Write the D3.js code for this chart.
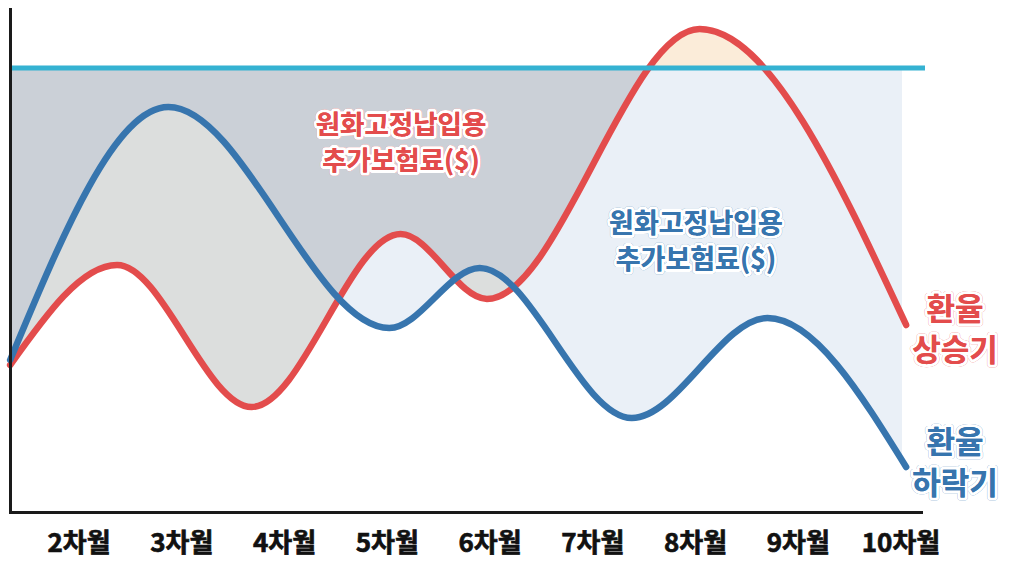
<!DOCTYPE html>
<html>
<head>
<meta charset="utf-8">
<script src="https://cdn.jsdelivr.net/npm/d3@7"></script>
<style>
  body { margin: 0; background: #fff; }
  svg { display: block; font-family: "Noto Sans CJK KR", "Noto Sans", sans-serif; }
</style>
</head>
<body>
<script>
// months on x, exchange-rate index on y
var months = [2, 3, 4, 5, 6, 7, 8, 9, 10];
var monthLabels = ["2차월", "3차월", "4차월", "5차월", "6차월", "7차월", "8차월", "9차월", "10차월"];

var riseMonths = [1.33, 2.37, 3.68, 5.13, 5.97, 8.04, 10.05];
var riseValues = [29.6, 49.6, 21.2, 55.8, 42.8, 96.8, 37.6];

var fallMonths = [1.33, 2.87, 5.02, 5.90, 7.38, 8.70, 10.05];
var fallValues = [30.6, 81.2, 37.0, 49.0, 19.0, 39.0, 9.2];

var fixedRate = 89;

var width = 1009, height = 563;
var red = "#e34c4c", blue = "#3775ae", cyan = "#35b2d2";

var x = d3.scaleLinear().domain([2, 10]).range([79, 901]);
var y = d3.scaleLinear().domain([0, 100]).range([513, 13]);

var rise = riseMonths.map(function(m, i) { return { m: m, v: riseValues[i] }; });
var fall = fallMonths.map(function(m, i) { return { m: m, v: fallValues[i] }; });

var svg = d3.select("body")
	.append("svg")
		.attr("width", width)
		.attr("height", height);

var defs = svg.append("defs");

var line = d3.line()
		.curve(d3.curveMonotoneX)
		.x(function(d) { return x(d.m); })
		.y(function(d) { return y(d.v); });

function areaTo(base) {
	return d3.area()
		.curve(d3.curveMonotoneX)
		.x(function(d) { return x(d.m); })
		.y0(base)
		.y1(function(d) { return y(d.v); });
}

var yTop = 0, yBottom = 513, yFix = y(fixedRate);

// clips
defs.append("clipPath").attr("id", "belowFall")
	.append("path").attr("d", areaTo(yBottom)(fall));
defs.append("clipPath").attr("id", "leftOfPeak")
	.append("rect")
		.attr("x", 0).attr("y", yFix)
		.attr("width", x(8.04)).attr("height", yBottom - yFix);
defs.append("clipPath").attr("id", "aboveFix")
	.append("rect")
		.attr("x", 0).attr("y", 0)
		.attr("width", width).attr("height", yFix);
defs.append("clipPath").attr("id", "plotRight")
	.append("rect")
		.attr("x", 0).attr("y", 0)
		.attr("width", 902).attr("height", height);

// light blue: fixed line down to falling curve
svg.append("path")
		.attr("d", areaTo(yFix)(fall))
		.attr("fill", "#eaf0f7")
		.attr("clip-path", "url(#plotRight)");

// dark gray: fixed line down to rising curve
svg.append("path")
		.attr("d", areaTo(yFix)(rise))
		.attr("fill", "#cbd0d7")
		.attr("clip-path", "url(#leftOfPeak)");

// light gray: between the curves where falling is above rising
svg.append("g")
		.attr("clip-path", "url(#belowFall)")
	.append("path")
		.attr("d", areaTo(yTop)(rise))
		.attr("fill", "#dcdedd");

// peach: rising curve above fixed line
svg.append("path")
		.attr("d", areaTo(yFix)(rise))
		.attr("fill", "#fbecd9")
		.attr("clip-path", "url(#aboveFix)");

svg.append("path")
		.attr("d", line(rise))
		.attr("fill", "none")
		.attr("stroke", red)
		.attr("stroke-width", 6.5)
		.attr("stroke-linecap", "round");

svg.append("path")
		.attr("d", line(fall))
		.attr("fill", "none")
		.attr("stroke", blue)
		.attr("stroke-width", 6.5)
		.attr("stroke-linecap", "round");

svg.append("line")
		.attr("x1", 10).attr("x2", 925)
		.attr("y1", yFix).attr("y2", yFix)
		.attr("stroke", cyan)
		.attr("stroke-width", 5);

// axes
svg.append("path")
		.attr("d", "M10.5,8V512.5H923")
		.attr("fill", "none")
		.attr("stroke", "#1a1a1a")
		.attr("stroke-width", 3);

svg.append("g")
	.selectAll("text")
		.data(months)
	.enter()
	.append("text")
		.attr("x", function(d) { return x(d); })
		.attr("y", 552)
		.attr("text-anchor", "middle")
		.attr("font-size", 26)
		.attr("font-weight", 700)
		.attr("fill", "#111")
		.attr("stroke", "#111")
		.attr("stroke-width", 0.7)
		.text(function(d, i) { return monthLabels[i]; });

function label(lines, cx, cy, size, color, gap) {
	var t = svg.append("text")
			.attr("text-anchor", "middle")
			.attr("font-size", size)
			.attr("font-weight", 700)
			.attr("fill", color)
			.attr("stroke", "#fff")
			.attr("stroke-width", 6)
			.attr("stroke-linejoin", "round")
			.attr("paint-order", "stroke");
	lines.forEach(function(s, i) {
		t.append("tspan")
			.attr("x", cx)
			.attr("y", cy + i * gap)
			.attr("dy", "0.36em")
			.attr("style", "text-shadow: 0 0 0.6px " + color)
			.text(s);
	});
}

label(["원화고정납입용", "추가보험료($)"], 401, 124, 26.5, red, 36);
label(["원화고정납입용", "추가보험료($)"], 696, 223, 27, blue, 36);
label(["환율", "상승기"], 955, 309, 31, red, 41);
label(["환율", "하락기"], 955, 442, 31, blue, 41);
</script>
</body>
</html>
